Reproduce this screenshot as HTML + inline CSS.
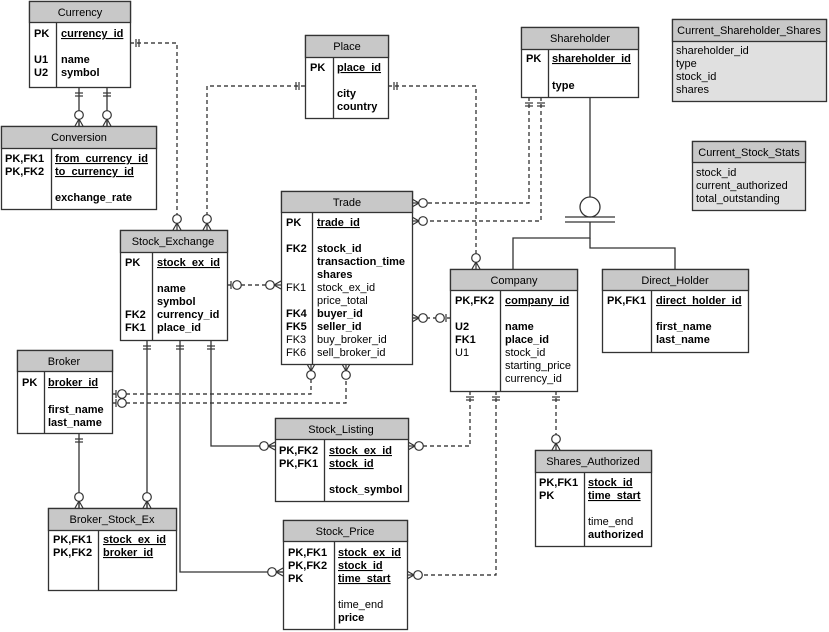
<!DOCTYPE html>
<html><head><meta charset="utf-8"><style>
html,body{margin:0;padding:0;background:#fff}
svg{display:block}
text{font-family:"Liberation Sans",Arial,sans-serif;font-size:11px;fill:#000}
.b{font-weight:bold}
.h{text-anchor:middle}
.u{text-decoration:underline}
</style></head><body>
<svg width="829" height="632" viewBox="0 0 829 632" xmlns="http://www.w3.org/2000/svg">
<defs>
<g id="mc" stroke="#333" stroke-width="1.2" fill="none"><line x1="0" y1="-7" x2="-4" y2="0"/><line x1="0" y1="-7" x2="0" y2="0"/><line x1="0" y1="-7" x2="4" y2="0"/><circle cx="0" cy="-11" r="4.3" fill="#fff"/></g>
<g id="mm" stroke="#333" stroke-width="1.2"><line x1="-4" y1="-6" x2="4" y2="-6"/><line x1="-4" y1="-9" x2="4" y2="-9"/></g>
<g id="mo" stroke="#333" stroke-width="1.2"><line x1="-4" y1="-4" x2="4" y2="-4"/><circle cx="0" cy="-10" r="4.3" fill="#fff"/></g>
</defs>

<!-- connectors -->
<g fill="none" stroke="#222" stroke-width="1.2" stroke-dasharray="4,3">
<path d="M130,43 H177 V222"/>
<path d="M305,86 H207 V222"/>
<path d="M388,86 H476 V261"/>
<path d="M529,97 V203 H420"/>
<path d="M541,97 V221 H420"/>
<path d="M227,285 H273"/>
<path d="M412,318 H450"/>
<path d="M112,394 H311 V372"/>
<path d="M112,403 H346 V372"/>
<path d="M470,391 V446 H416"/>
<path d="M496,391 V575 H415"/>
<path d="M556,391 V442"/>
</g>
<g fill="none" stroke="#333" stroke-width="1.3">
<path d="M79,87 V126"/><path d="M107,87 V126"/>
<path d="M147,340 V508"/>
<path d="M180,340 V572 H283"/>
<path d="M211,340 V446 H275"/>
<path d="M79,433 V508"/>
<path d="M590,97 V197"/>
<circle cx="590" cy="207" r="10" fill="#fff"/>
<line x1="565" y1="217" x2="615" y2="217"/><line x1="565" y1="222" x2="615" y2="222"/>
<path d="M590,222 V238 H513 V269"/>
<path d="M590,238 V248 H675 V269"/>
</g>

<!-- markers -->
<use href="#mm" transform="translate(130,43) rotate(90)"/>
<use href="#mc" transform="translate(177,230)"/>
<use href="#mm" transform="translate(305,86) rotate(-90)"/>
<use href="#mc" transform="translate(207,230)"/>
<use href="#mm" transform="translate(388,86) rotate(90)"/>
<use href="#mc" transform="translate(476,269)"/>
<use href="#mm" transform="translate(79,87) rotate(180)"/>
<use href="#mm" transform="translate(107,87) rotate(180)"/>
<use href="#mc" transform="translate(79,126)"/>
<use href="#mc" transform="translate(107,126)"/>
<use href="#mm" transform="translate(529,97) rotate(180)"/>
<use href="#mm" transform="translate(541,97) rotate(180)"/>
<use href="#mc" transform="translate(412,203) rotate(90)"/>
<use href="#mc" transform="translate(412,221) rotate(90)"/>
<use href="#mo" transform="translate(227,285) rotate(90)"/>
<use href="#mc" transform="translate(281,285) rotate(-90)"/>
<use href="#mo" transform="translate(450,318) rotate(-90)"/>
<use href="#mc" transform="translate(412,318) rotate(90)"/>
<use href="#mm" transform="translate(147,340) rotate(180)"/>
<use href="#mm" transform="translate(180,340) rotate(180)"/>
<use href="#mm" transform="translate(211,340) rotate(180)"/>
<use href="#mc" transform="translate(147,508)"/>
<use href="#mc" transform="translate(283,572) rotate(-90)"/>
<use href="#mc" transform="translate(275,446) rotate(-90)"/>
<use href="#mo" transform="translate(112,394) rotate(90)"/>
<use href="#mo" transform="translate(112,403) rotate(90)"/>
<use href="#mc" transform="translate(311,364) rotate(180)"/>
<use href="#mc" transform="translate(346,364) rotate(180)"/>
<use href="#mm" transform="translate(79,433) rotate(180)"/>
<use href="#mc" transform="translate(79,508)"/>
<use href="#mm" transform="translate(470,391) rotate(180)"/>
<use href="#mm" transform="translate(496,391) rotate(180)"/>
<use href="#mm" transform="translate(556,391) rotate(180)"/>
<use href="#mc" transform="translate(408,446) rotate(90)"/>
<use href="#mc" transform="translate(407,575) rotate(90)"/>
<use href="#mc" transform="translate(556,450)"/>

<!-- tables -->
<g stroke="#333" stroke-width="1.3">
<!-- Currency -->
<rect x="29.5" y="1.5" width="101" height="86" fill="#fff"/><rect x="29.5" y="1.5" width="101" height="21" fill="#c8c8c8"/><line x1="56.5" y1="22.5" x2="56.5" y2="87.5"/>
<!-- Conversion -->
<rect x="1.5" y="126.5" width="155" height="83" fill="#fff"/><rect x="1.5" y="126.5" width="155" height="22" fill="#c8c8c8"/><line x1="51.5" y1="148.5" x2="51.5" y2="209.5"/>
<!-- Place -->
<rect x="305.5" y="35.5" width="83" height="83" fill="#fff"/><rect x="305.5" y="35.5" width="83" height="22" fill="#c8c8c8"/><line x1="333.5" y1="57.5" x2="333.5" y2="118.5"/>
<!-- Shareholder -->
<rect x="521.5" y="27.5" width="117" height="70" fill="#fff"/><rect x="521.5" y="27.5" width="117" height="22" fill="#c8c8c8"/><line x1="548.5" y1="49.5" x2="548.5" y2="97.5"/>
<!-- CSS -->
<rect x="672.5" y="19.5" width="154" height="82" fill="#e0e0e0"/><rect x="672.5" y="19.5" width="154" height="22" fill="#c8c8c8"/>
<!-- CStats -->
<rect x="692.5" y="141.5" width="113" height="69" fill="#e0e0e0"/><rect x="692.5" y="141.5" width="113" height="21" fill="#c8c8c8"/>
<!-- Trade -->
<rect x="281.5" y="191.5" width="131" height="173" fill="#fff"/><rect x="281.5" y="191.5" width="131" height="21" fill="#c8c8c8"/><line x1="312.5" y1="212.5" x2="312.5" y2="364.5"/>
<!-- Stock_Exchange -->
<rect x="120.5" y="230.5" width="107" height="110" fill="#fff"/><rect x="120.5" y="230.5" width="107" height="22" fill="#c8c8c8"/><line x1="152.5" y1="252.5" x2="152.5" y2="340.5"/>
<!-- Company -->
<rect x="450.5" y="269.5" width="127" height="122" fill="#fff"/><rect x="450.5" y="269.5" width="127" height="21" fill="#c8c8c8"/><line x1="500.5" y1="290.5" x2="500.5" y2="391.5"/>
<!-- Direct_Holder -->
<rect x="602.5" y="269.5" width="146" height="83" fill="#fff"/><rect x="602.5" y="269.5" width="146" height="21" fill="#c8c8c8"/><line x1="651.5" y1="290.5" x2="651.5" y2="352.5"/>
<!-- Broker -->
<rect x="17.5" y="350.5" width="95" height="83" fill="#fff"/><rect x="17.5" y="350.5" width="95" height="21" fill="#c8c8c8"/><line x1="44.5" y1="371.5" x2="44.5" y2="433.5"/>
<!-- Stock_Listing -->
<rect x="275.5" y="418.5" width="133" height="83" fill="#fff"/><rect x="275.5" y="418.5" width="133" height="21" fill="#c8c8c8"/><line x1="324.5" y1="439.5" x2="324.5" y2="501.5"/>
<!-- Shares_Authorized -->
<rect x="535.5" y="450.5" width="116" height="96" fill="#fff"/><rect x="535.5" y="450.5" width="116" height="22" fill="#c8c8c8"/><line x1="584.5" y1="472.5" x2="584.5" y2="546.5"/>
<!-- Broker_Stock_Ex -->
<rect x="48.5" y="508.5" width="128" height="82" fill="#fff"/><rect x="48.5" y="508.5" width="128" height="22" fill="#c8c8c8"/><line x1="98.5" y1="530.5" x2="98.5" y2="590.5"/>
<!-- Stock_Price -->
<rect x="283.5" y="520.5" width="124" height="109" fill="#fff"/><rect x="283.5" y="520.5" width="124" height="21" fill="#c8c8c8"/><line x1="334.5" y1="541.5" x2="334.5" y2="629.5"/>
</g>

<!-- texts -->
<text class="h" x="80" y="16">Currency</text>
<text class="b" x="34" y="37">PK</text><text class="b u" x="61" y="37">currency_id</text>
<text class="b" x="34" y="63">U1</text><text class="b" x="61" y="63">name</text>
<text class="b" x="34" y="76">U2</text><text class="b" x="61" y="76">symbol</text>

<text class="h" x="79" y="141">Conversion</text>
<text class="b" x="5" y="162">PK,FK1</text><text class="b u" x="55" y="162">from_currency_id</text>
<text class="b" x="5" y="175">PK,FK2</text><text class="b u" x="55" y="175">to_currency_id</text>
<text class="b" x="55" y="201">exchange_rate</text>

<text class="h" x="347" y="50">Place</text>
<text class="b" x="310" y="71">PK</text><text class="b u" x="337" y="71">place_id</text>
<text class="b" x="337" y="97">city</text><text class="b" x="337" y="110">country</text>

<text class="h" x="580" y="42">Shareholder</text>
<text class="b" x="526" y="62">PK</text><text class="b u" x="552" y="62">shareholder_id</text>
<text class="b" x="552" y="89">type</text>

<text class="h" x="749" y="34">Current_Shareholder_Shares</text>
<text x="676" y="54">shareholder_id</text><text x="676" y="67">type</text><text x="676" y="80">stock_id</text><text x="676" y="93">shares</text>

<text class="h" x="749" y="156">Current_Stock_Stats</text>
<text x="696" y="176">stock_id</text><text x="696" y="189">current_authorized</text><text x="696" y="202">total_outstanding</text>

<text class="h" x="347" y="206">Trade</text>
<text class="b" x="286" y="226">PK</text><text class="b u" x="317" y="226">trade_id</text>
<text class="b" x="286" y="252">FK2</text><text class="b" x="317" y="252">stock_id</text>
<text class="b" x="317" y="265">transaction_time</text>
<text class="b" x="317" y="278">shares</text>
<text x="286" y="291">FK1</text><text x="317" y="291">stock_ex_id</text>
<text x="317" y="304">price_total</text>
<text class="b" x="286" y="317">FK4</text><text class="b" x="317" y="317">buyer_id</text>
<text class="b" x="286" y="330">FK5</text><text class="b" x="317" y="330">seller_id</text>
<text x="286" y="343">FK3</text><text x="317" y="343">buy_broker_id</text>
<text x="286" y="356">FK6</text><text x="317" y="356">sell_broker_id</text>

<text class="h" x="173" y="245">Stock_Exchange</text>
<text class="b" x="125" y="266">PK</text><text class="b u" x="157" y="266">stock_ex_id</text>
<text class="b" x="157" y="292">name</text><text class="b" x="157" y="305">symbol</text>
<text class="b" x="125" y="318">FK2</text><text class="b" x="157" y="318">currency_id</text>
<text class="b" x="125" y="331">FK1</text><text class="b" x="157" y="331">place_id</text>

<text class="h" x="514" y="284">Company</text>
<text class="b" x="455" y="304">PK,FK2</text><text class="b u" x="505" y="304">company_id</text>
<text class="b" x="455" y="330">U2</text><text class="b" x="505" y="330">name</text>
<text class="b" x="455" y="343">FK1</text><text class="b" x="505" y="343">place_id</text>
<text x="455" y="356">U1</text><text x="505" y="356">stock_id</text>
<text x="505" y="369">starting_price</text><text x="505" y="382">currency_id</text>

<text class="h" x="675" y="284">Direct_Holder</text>
<text class="b" x="607" y="304">PK,FK1</text><text class="b u" x="656" y="304">direct_holder_id</text>
<text class="b" x="656" y="330">first_name</text><text class="b" x="656" y="343">last_name</text>

<text class="h" x="64" y="365">Broker</text>
<text class="b" x="22" y="386">PK</text><text class="b u" x="48" y="386">broker_id</text>
<text class="b" x="48" y="413">first_name</text><text class="b" x="48" y="426">last_name</text>

<text class="h" x="341" y="433">Stock_Listing</text>
<text class="b" x="279" y="454">PK,FK2</text><text class="b u" x="329" y="454">stock_ex_id</text>
<text class="b" x="279" y="467">PK,FK1</text><text class="b u" x="329" y="467">stock_id</text>
<text class="b" x="329" y="493">stock_symbol</text>

<text class="h" x="593" y="465">Shares_Authorized</text>
<text class="b" x="539" y="486">PK,FK1</text><text class="b u" x="588" y="486">stock_id</text>
<text class="b" x="539" y="499">PK</text><text class="b u" x="588" y="499">time_start</text>
<text x="588" y="525">time_end</text><text class="b" x="588" y="538">authorized</text>

<text class="h" x="112" y="523">Broker_Stock_Ex</text>
<text class="b" x="53" y="543">PK,FK1</text><text class="b u" x="103" y="543">stock_ex_id</text>
<text class="b" x="53" y="556">PK,FK2</text><text class="b u" x="103" y="556">broker_id</text>

<text class="h" x="345" y="535">Stock_Price</text>
<text class="b" x="288" y="556">PK,FK1</text><text class="b u" x="338" y="556">stock_ex_id</text>
<text class="b" x="288" y="569">PK,FK2</text><text class="b u" x="338" y="569">stock_id</text>
<text class="b" x="288" y="582">PK</text><text class="b u" x="338" y="582">time_start</text>
<text x="338" y="608">time_end</text><text class="b" x="338" y="621">price</text>
</svg>
</body></html>
